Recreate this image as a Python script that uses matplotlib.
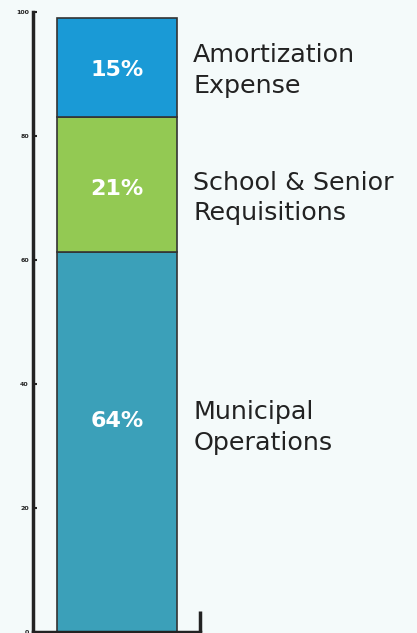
import matplotlib.pyplot as plt

# data (bar heights on the 0-100 axis)
categories = ['Municipal\nOperations', 'School & Senior\nRequisitions', 'Amortization\nExpense']
values = [61.3, 21.8, 15.9]
pct_labels = ['64%', '21%', '15%']
colors = ['#3BA0B9', '#93C953', '#1A9AD6']
yticks = [0, 20, 40, 60, 80, 100]

# where the text sits (y in axis units)
label_y = [33.0, 70.0, 90.6]
pct_y = [34.0, 71.5, 90.6]

bg = '#F4FAFA'
fig = plt.figure(figsize=(4.17, 6.33), dpi=100, facecolor=bg)
ax = fig.add_axes([0.079, 0.0016, 0.401, 0.9794])
ax.set_facecolor(bg)

bottom = 0
for v, c in zip(values, colors):
    ax.bar(0.503, v, width=0.719, bottom=bottom, color=c,
           edgecolor='#333333', linewidth=1.2)
    bottom += v

for lab, y in zip(pct_labels, pct_y):
    ax.text(0.503, y, lab, ha='center', va='center', color='white',
            fontsize=16, fontweight='heavy')

for cat, y in zip(categories, label_y):
    ax.text(0.958, y, cat, ha='left', va='center', color='#222222',
            fontsize=18.3, linespacing=1.35, clip_on=False)

ax.set_xlim(0, 1)
ax.set_ylim(0, 100)
ax.set_yticks(yticks)
ax.set_yticklabels([str(t) for t in yticks], fontsize=4.5, fontweight='bold', color='#222222')
ax.tick_params(axis='y', direction='in', length=3, width=1.5, pad=3, color='#222222')
ax.set_xticks([1.0])
ax.set_xticklabels([''])
ax.tick_params(axis='x', direction='in', length=15, width=2.5, color='#222222')

for s in ['top', 'right']:
    ax.spines[s].set_visible(False)
for s in ['left', 'bottom']:
    ax.spines[s].set_linewidth(2.5)
    ax.spines[s].set_color('#222222')

fig.savefig('out.png', dpi=100, facecolor=bg)
